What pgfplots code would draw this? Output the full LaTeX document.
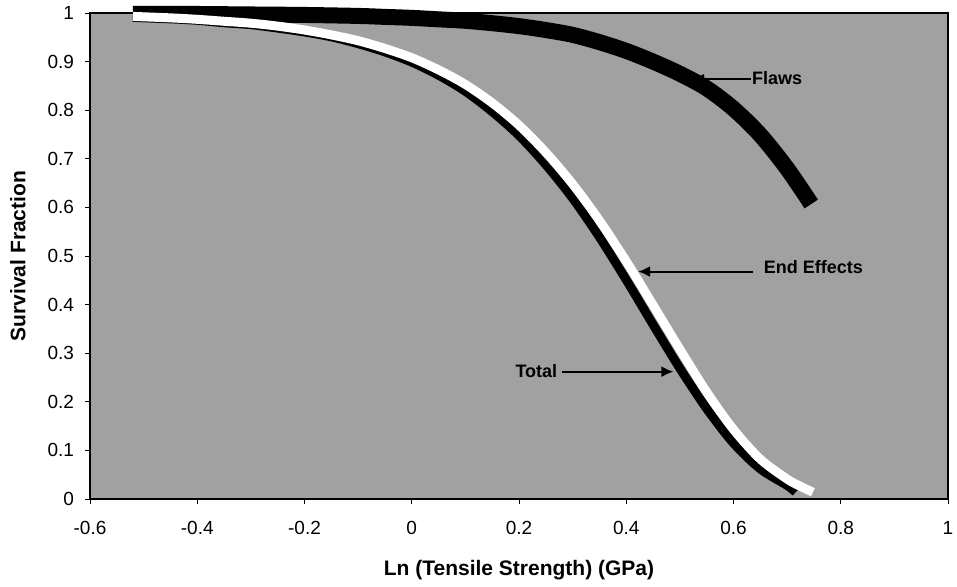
\documentclass[border=0pt]{standalone}
\usepackage{pgfplots}
\pgfplotsset{compat=1.18}
\usepackage{fontspec}
\setmainfont{Liberation Sans}
\usetikzlibrary{arrows.meta}
\begin{document}
\begin{tikzpicture}
\useasboundingbox (-45pt,-43.5pt) rectangle (433.5pt,249.5pt);
\begin{axis}[
  at={(0,0)}, anchor=south west,
  width=429pt, height=243pt, scale only axis,
  xmin=-0.6, xmax=1, ymin=0, ymax=1,
  clip=false,
  xtick={-0.6,-0.4,-0.2,0,0.2,0.4,0.6,0.8,1},
  ytick={0,0.1,0.2,0.3,0.4,0.5,0.6,0.7,0.8,0.9,1},
  xticklabels={-0.6,-0.4,-0.2,0,0.2,0.4,0.6,0.8,1},
  yticklabels={0,0.1,0.2,0.3,0.4,0.5,0.6,0.7,0.8,0.9,1},
  xtick pos=bottom, ytick pos=left,
  tick align=outside, major tick length=2.5pt,
  tick style={black, line width=0.5pt},
  axis line style={black, line width=0.9pt},
  axis background/.style={fill=black!37},
  tick label style={font=\fontsize{9.5}{11}\selectfont},
  xticklabel style={yshift=-5pt},
  yticklabel style={xshift=-2pt},
  xlabel={Ln (Tensile Strength) (GPa)},
  ylabel={Survival Fraction},
  label style={font=\fontsize{10.5}{12}\selectfont\bfseries},
  xlabel style={at={(axis description cs:0.5,-0.146)}, anchor=center},
  ylabel style={at={(axis description cs:-0.084,0.5)}, anchor=center},
]
% Flaws
\addplot[black, line width=8pt, line join=round, smooth] coordinates {
(-0.52,0.998) (-0.45,0.998) (-0.4,0.998) (-0.3,0.997) (-0.2,0.996) (-0.1,0.994)
(-0.05,0.992) (0,0.990) (0.05,0.987) (0.1,0.984) (0.15,0.979) (0.2,0.973)
(0.25,0.965) (0.3,0.955) (0.35,0.940) (0.4,0.922) (0.45,0.900) (0.5,0.875)
(0.55,0.845) (0.6,0.803) (0.65,0.749) (0.7,0.680) (0.745,0.607)};
% Total
\addplot[black, line width=4.5pt, line join=round, smooth] coordinates {
(-0.52,0.991) (-0.45,0.988) (-0.4,0.985) (-0.35,0.980) (-0.3,0.976) (-0.25,0.969)
(-0.2,0.961) (-0.15,0.951) (-0.1,0.937) (-0.05,0.920) (0,0.899) (0.05,0.872)
(0.1,0.839) (0.15,0.797) (0.2,0.748) (0.25,0.688) (0.3,0.619) (0.35,0.539)
(0.4,0.451) (0.45,0.359) (0.5,0.269) (0.55,0.186) (0.6,0.115) (0.65,0.062)
(0.7,0.028) (0.716,0.014)};
% End Effects
\addplot[white, line width=4.5pt, line join=round, smooth] coordinates {
(-0.52,0.993) (-0.45,0.990) (-0.4,0.987) (-0.35,0.983) (-0.3,0.979) (-0.25,0.973)
(-0.2,0.965) (-0.15,0.955) (-0.1,0.943) (-0.05,0.927) (0,0.908) (0.05,0.883)
(0.1,0.853) (0.15,0.815) (0.2,0.769) (0.25,0.713) (0.3,0.648) (0.35,0.573)
(0.4,0.489) (0.45,0.399) (0.5,0.308) (0.55,0.220) (0.6,0.143) (0.65,0.082)
(0.7,0.041) (0.725,0.026) (0.748,0.014)};
% annotations
\draw[black, line width=1pt, -{Latex[length=6pt,width=5.5pt]}] (axis cs:0.632,0.864) -- (axis cs:0.523,0.864);
\node[anchor=west, inner sep=0pt, font=\fontsize{9}{10}\selectfont\bfseries] at (axis cs:0.634,0.866) {Flaws};
\draw[black, line width=1pt, -{Latex[length=6pt,width=5.5pt]}] (axis cs:0.636,0.468) -- (axis cs:0.422,0.468);
\node[anchor=west, inner sep=0pt, font=\fontsize{9}{10}\selectfont\bfseries] at (axis cs:0.656,0.478) {End Effects};
\draw[black, line width=1pt, -{Latex[length=6pt,width=5.5pt]}] (axis cs:0.28,0.262) -- (axis cs:0.488,0.262);
\node[anchor=east, inner sep=0pt, font=\fontsize{9}{10}\selectfont\bfseries] at (axis cs:0.272,0.264) {Total};
\end{axis}
\end{tikzpicture}
\end{document}
